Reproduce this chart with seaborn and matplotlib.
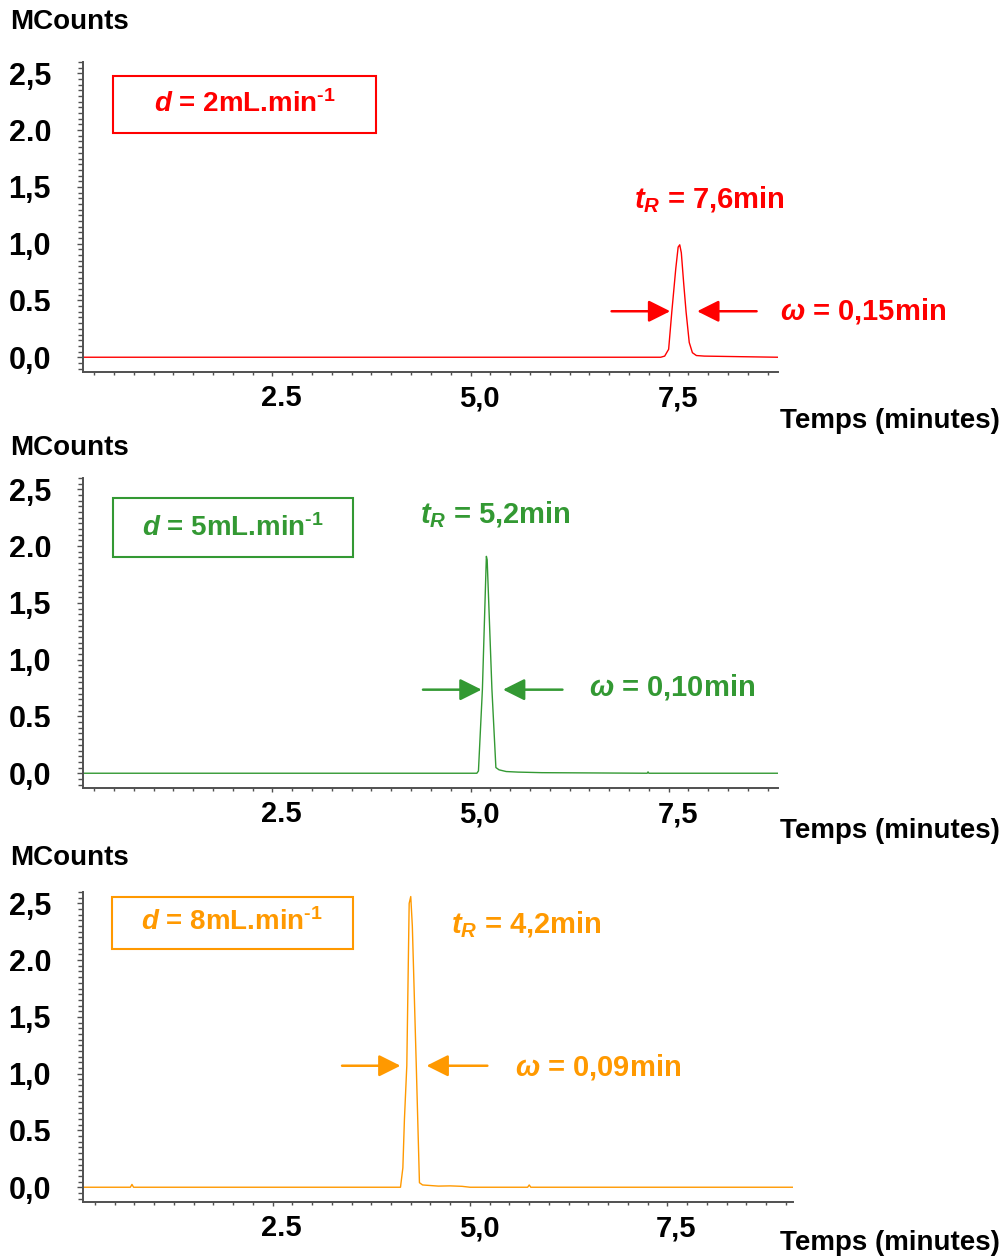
import matplotlib
matplotlib.use("Agg")
import matplotlib.pyplot as plt
import matplotlib.transforms as mtransforms
import seaborn as sns
from matplotlib.patches import Rectangle
from matplotlib.ticker import MultipleLocator, FixedLocator

# chromatogram traces (time in min, signal in MCounts)
time_2ml = [0.11, 7.40, 7.45, 7.50, 7.54, 7.59, 7.62, 7.64, 7.66, 7.69, 7.72, 7.76, 7.80, 7.85, 7.95, 8.40, 8.88]
signal_2ml = [0.0, 0.0, 0.01, 0.07, 0.40, 0.78, 0.97, 0.99, 0.92, 0.65, 0.40, 0.13, 0.04, 0.015, 0.01, 0.005, 0.0]

time_5ml = [0.11, 5.08, 5.10, 5.15, 5.20, 5.21, 5.27, 5.32, 5.36, 5.45, 5.60, 5.90, 7.23, 7.24, 7.25, 8.88]
signal_5ml = [0.0, 0.0, 0.02, 0.74, 1.91, 1.88, 0.74, 0.05, 0.03, 0.015, 0.01, 0.005, 0.0, 0.012, 0.0, 0.0]

time_8ml = [0.10, 0.70, 0.72, 0.74, 4.12, 4.15, 4.17, 4.20, 4.23, 4.25, 4.27, 4.32, 4.36, 4.40,
            4.50, 4.60, 4.75, 4.90, 5.00, 5.73, 5.75, 5.77, 9.09]
signal_8ml = [0.0, 0.0, 0.025, 0.0, 0.0, 0.17, 0.6, 1.07, 2.50, 2.56, 2.30, 1.07, 0.04, 0.02,
              0.015, 0.01, 0.012, 0.008, 0.0, 0.0, 0.02, 0.0, 0.0]

flow_labels = ["2", "5", "8"]
tr_labels = ["7,6", "5,2", "4,2"]
width_labels = ["0,15", "0,10", "0,09"]
colors = ["#FF0000", "#339933", "#FF9900"]

y_ticks = [0.0, 0.5, 1.0, 1.5, 2.0, 2.5]
y_ticklabels = ["0,0", "0.5", "1,0", "1,5", "2.0", "2,5"]
x_ticks = [2.5, 5.0, 7.5]
x_ticklabels = ["2.5", "5,0", "7,5"]

sns.set_style("white")
plt.rcParams["font.family"] = ["Liberation Sans", "DejaVu Sans"]
plt.rcParams["font.weight"] = "bold"
plt.rcParams["text.color"] = "black"
plt.rcParams["xtick.labelcolor"] = "black"
plt.rcParams["ytick.labelcolor"] = "black"
plt.rcParams["mathtext.fontset"] = "custom"
plt.rcParams["mathtext.it"] = "Liberation Sans:italic:bold"
plt.rcParams["mathtext.rm"] = "Liberation Sans:bold"
plt.rcParams["mathtext.bf"] = "Liberation Sans:bold"

W, H = 1006, 1258
fig = plt.figure(figsize=(W / 100, H / 100), dpi=100)


def px(x0, y0, x1, y1):
    return [x0 / W, 1 - y1 / H, (x1 - x0) / W, (y1 - y0) / H]


panels = [
    dict(rect=px(83, 62, 778, 372), xlim=(0.11, 8.88), t=time_2ml, s=signal_2ml,
         box=(0.043, 0.771, 0.378, 0.184), boxtext=(0.233, 0.865),
         tr=(8.01, 1.39), w=(9.95, 0.41),
         arrows=[(6.78, 7.52), (8.61, 7.86)], arrow_y=0.405,
         ylab_y=22, xlab_y=421),
    dict(rect=px(83, 478, 778, 788), xlim=(0.11, 8.88), t=time_5ml, s=signal_5ml,
         box=(0.043, 0.745, 0.345, 0.19), boxtext=(0.216, 0.839),
         tr=(5.32, 2.28), w=(7.54, 0.76),
         arrows=[(4.40, 5.14), (6.16, 5.41)], arrow_y=0.736,
         ylab_y=448, xlab_y=831),
    dict(rect=px(83, 892, 793, 1202), xlim=(0.10, 9.09), t=time_8ml, s=signal_8ml,
         box=(0.041, 0.816, 0.339, 0.168), boxtext=(0.21, 0.903),
         tr=(5.71, 2.31), w=(6.62, 1.06),
         arrows=[(3.38, 4.12), (5.22, 4.45)], arrow_y=1.07,
         ylab_y=858, xlab_y=1243),
]

spine_color = "#505050"
label_shift = mtransforms.ScaledTranslation(0.09, 0, fig.dpi_scale_trans)

for i, p in enumerate(panels):
    c = colors[i]
    ax = fig.add_axes(p["rect"])
    sns.lineplot(x=p["t"], y=p["s"], ax=ax, color=c, linewidth=1.0)
    ax.set_xlim(*p["xlim"])
    ax.set_ylim(-0.13, 2.6)
    sns.despine(ax=ax)
    for side in ["left", "bottom"]:
        ax.spines[side].set_color(spine_color)
        ax.spines[side].set_linewidth(1.4)

    ax.yaxis.set_major_locator(FixedLocator(y_ticks))
    ax.set_yticklabels(y_ticklabels, fontsize=22, fontweight="bold")
    ax.yaxis.set_minor_locator(MultipleLocator(0.05))
    ax.xaxis.set_major_locator(FixedLocator(x_ticks))
    ax.set_xticklabels(x_ticklabels, fontsize=21, fontweight="bold")
    ax.xaxis.set_minor_locator(MultipleLocator(0.25))
    ax.tick_params(axis="y", which="major", direction="out", length=4, width=1,
                   color=spine_color, labelcolor="black", pad=19, left=True)
    ax.tick_params(axis="y", which="minor", direction="out", length=3.5, width=1,
                   color=spine_color, left=True)
    ax.tick_params(axis="x", which="major", direction="out", length=3, width=1,
                   color=spine_color, labelcolor="black", pad=6, bottom=True)
    ax.tick_params(axis="x", which="minor", direction="out", length=2, width=1,
                   color=spine_color, bottom=True)
    # big x labels sit a little right of their ticks in the original
    for lab in ax.get_xticklabels():
        lab.set_transform(lab.get_transform() + label_shift)
    # "2.0" and "0.5" are cut at the bottom in the original
    for lab, val in zip(ax.get_yticklabels(), y_ticks):
        if val in (0.5, 2.0):
            ycut = ax.transData.transform((0, val))[1] - 11
            lab.set_clip_box(mtransforms.Bbox.from_extents(0, ycut, W, H))
            lab.set_clip_on(True)
    ax.set_xlabel("")
    ax.set_ylabel("")
    ax.patch.set_alpha(0)

    # flow-rate box
    bx, by, bw, bh = p["box"]
    ax.add_patch(Rectangle((bx, by), bw, bh, transform=ax.transAxes, fill=False,
                           edgecolor=c, linewidth=1.5, clip_on=False))
    ax.text(p["boxtext"][0], p["boxtext"][1],
            r"$d$ = " + flow_labels[i] + r"mL.min$^{\text{-1}}$",
            transform=ax.transAxes, ha="center", va="center",
            fontsize=20, fontweight="bold", color=c)

    # retention time and peak width
    ax.text(p["tr"][0], p["tr"][1], r"$t_R$ = " + tr_labels[i] + "min",
            ha="center", va="center", fontsize=21, fontweight="bold", color=c,
            clip_on=False)
    ax.text(p["w"][0], p["w"][1], r"$\omega$ = " + width_labels[i] + "min",
            ha="center", va="center", fontsize=21, fontweight="bold", color=c,
            clip_on=False)
    for tail, tip in p["arrows"]:
        ax.annotate("", xy=(tip, p["arrow_y"]), xytext=(tail, p["arrow_y"]),
                    arrowprops=dict(arrowstyle="-|>,head_length=0.6,head_width=0.3",
                                    mutation_scale=22, color=c, lw=1.8,
                                    shrinkA=0, shrinkB=0))

    fig.text(10 / W, 1 - p["ylab_y"] / H, "MCounts", ha="left", va="center",
             fontsize=20, fontweight="bold", color="black")
    fig.text(1000 / W, 1 - p["xlab_y"] / H, "Temps (minutes)", ha="right", va="center",
             fontsize=20, fontweight="bold", color="black")

fig.savefig("out.png", dpi=100)
